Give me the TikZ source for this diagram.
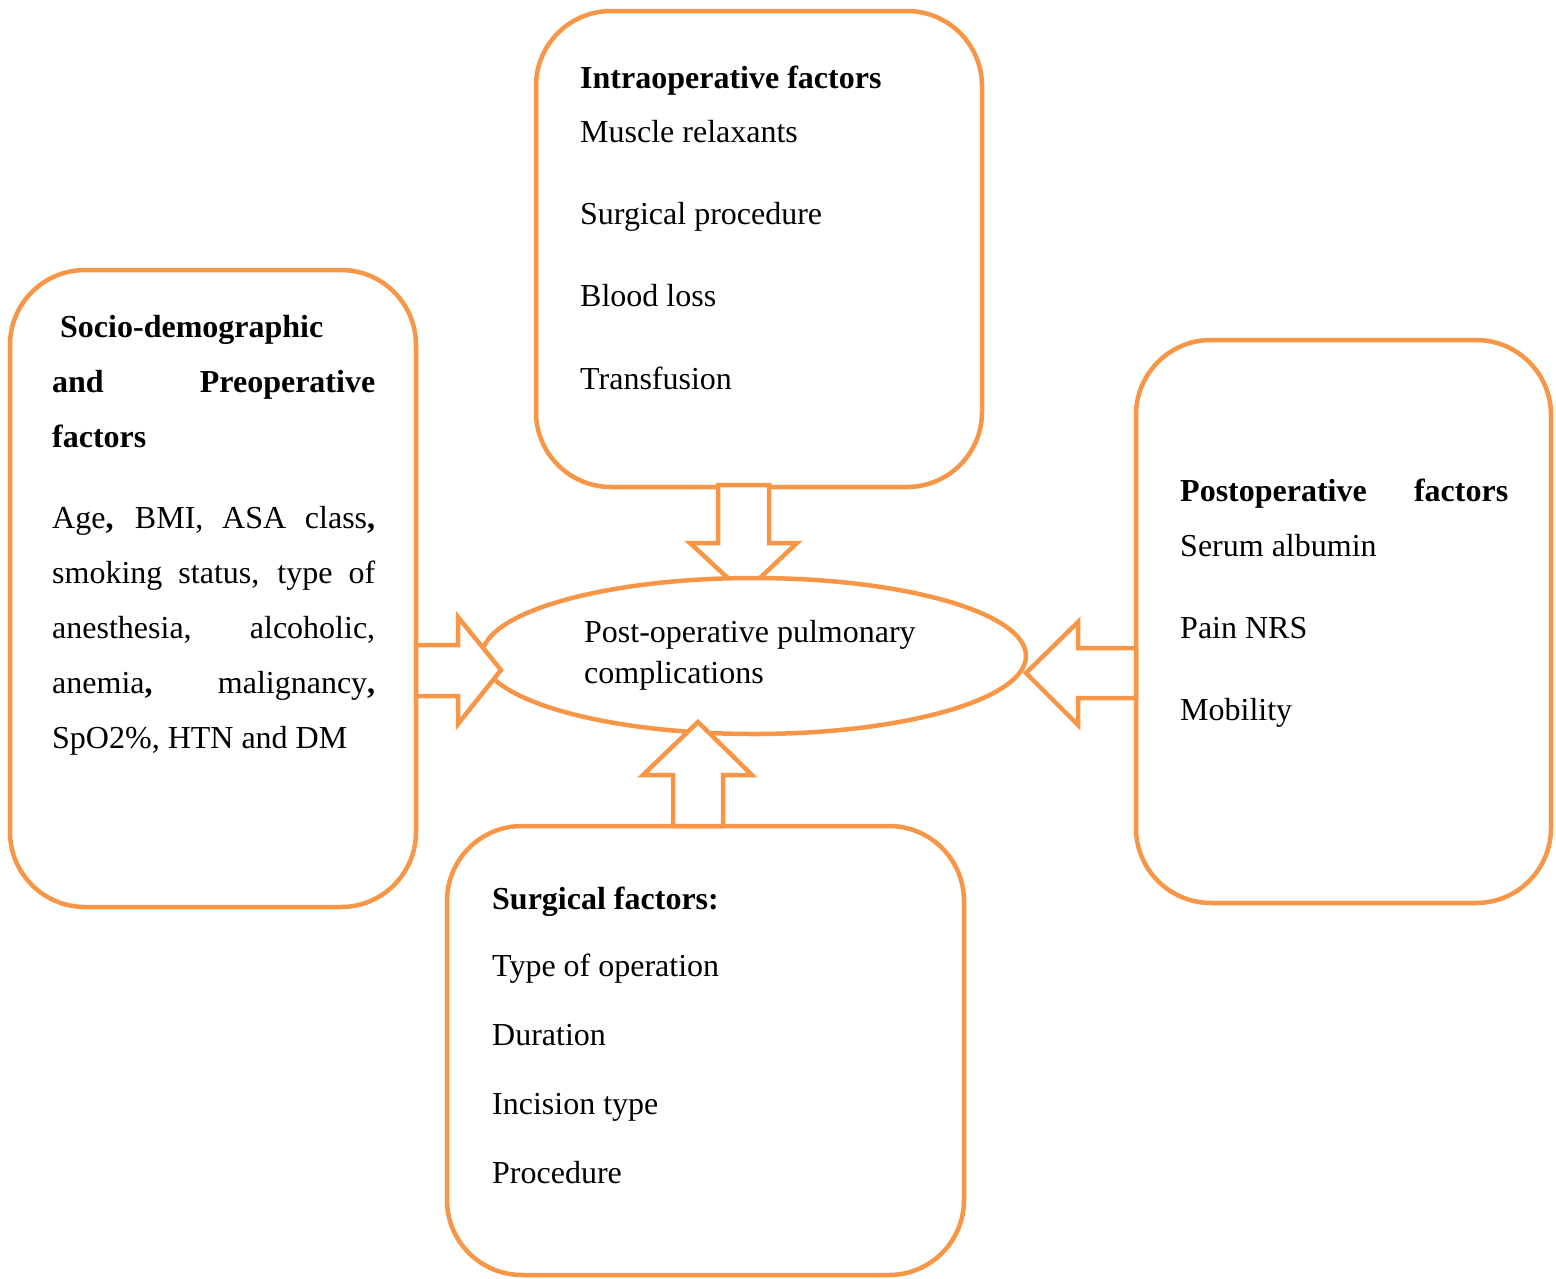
\documentclass[tikz,border=0pt]{standalone}
\usepackage{fontspec}
\setmainfont{Liberation Serif}
\usetikzlibrary{shapes.geometric}
\definecolor{orng}{HTML}{F79646}
\tikzset{
  box/.style={draw=orng, line width=4.5pt, fill=white, rounded corners=75pt, inner sep=0pt},
  blockarrow/.style={draw=orng, line width=4.5pt, fill=white, line join=miter},
  txt/.style={inner sep=0pt, anchor=base west, font=\fontsize{32}{38}\selectfont},
  btxt/.style={txt, font=\fontsize{32}{38}\selectfont\bfseries},
}
\begin{document}
\begin{tikzpicture}[x=1pt,y=-1pt]
\useasboundingbox (0,0) rectangle (1556,1278);
% boxes
\node[box, minimum width=446pt, minimum height=476pt] (intra) at (759,249) {};
\node[box, minimum width=406pt, minimum height=637pt] (socio) at (213,588.5) {};
\node[box, minimum width=415pt, minimum height=563pt] (post) at (1343.5,621.5) {};
\node[box, minimum width=517pt, minimum height=449pt] (surg) at (705.5,1050.5) {};
% top arrow (behind ellipse)
\coordinate (ta) at (intra.south);
\draw[blockarrow] (718,485) -- (769,485) -- (769,543) -- (797,543) -- (744,593) -- (690,543) -- (718,543) -- cycle;
% ellipse
\node[draw=orng, line width=4.5pt, fill=white, ellipse, minimum width=544pt, minimum height=156pt, inner sep=0pt] (pop) at (754,656) {};
% left, right, bottom arrows
\draw[blockarrow] (416,645) -- (458,645) -- (458,617) -- (501,670) -- (458,724) -- (458,696) -- (416,696) -- cycle;
\draw[blockarrow] (1136,648) -- (1078,648) -- (1078,622) -- (1026,673) -- (1078,725) -- (1078,698) -- (1136,698) -- cycle;
\draw[blockarrow] (673,826) -- (673,775) -- (643,775) -- (698,722) -- (752,775) -- (723,775) -- (723,826) -- cycle;
% intraoperative text
\node[btxt] (i0) at (580,88) {Intraoperative factors};
\node[txt] (i1) at (580,142) {Muscle relaxants};
\node[txt] (i2) at (580,224) {Surgical procedure};
\node[txt] (i3) at (580,306) {Blood loss};
\node[txt] (i4) at (580,389) {Transfusion};
% socio text
\node[btxt] (s0) at (60,337) {Socio-demographic};
\node[btxt] (s1) at (52,392) {\makebox[323pt][s]{and Preoperative}};
\node[btxt] (s2) at (52,447) {factors};
\node[txt] (s3) at (52,528) {\makebox[323pt][s]{Age\textbf{,} BMI, ASA class\textbf{,}}};
\node[txt] (s4) at (52,583) {\makebox[323pt][s]{smoking status, type of}};
\node[txt] (s5) at (52,638) {\makebox[323pt][s]{anesthesia, alcoholic,}};
\node[txt] (s6) at (52,693) {\makebox[323pt][s]{anemia\textbf{,} malignancy\textbf{,}}};
\node[txt] (s7) at (52,748) {SpO2\%, HTN and DM};
% postoperative text
\node[btxt] (p0) at (1180,501) {\makebox[328pt][s]{Postoperative factors}};
\node[txt] (p1) at (1180,556) {Serum albumin};
\node[txt] (p2) at (1180,638) {Pain NRS};
\node[txt] (p3) at (1180,720) {Mobility};
% surgical text
\node[btxt] (g0) at (492,909) {Surgical factors:};
\node[txt] (g1) at (492,976) {Type of operation};
\node[txt] (g2) at (492,1045) {Duration};
\node[txt] (g3) at (492,1114) {Incision type};
\node[txt] (g4) at (492,1183) {Procedure};
% ellipse text
\node[txt] (e0) at (584,642) {Post-operative pulmonary};
\node[txt] (e1) at (584,683) {complications};
\end{tikzpicture}
\end{document}
